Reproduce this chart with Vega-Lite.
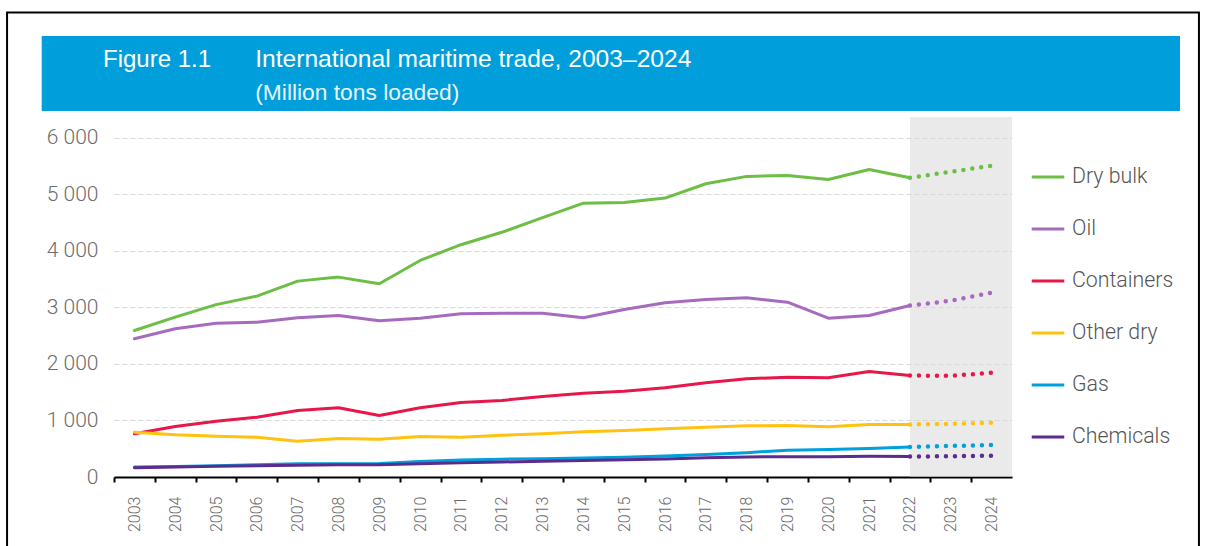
{
 "$schema": "https://vega.github.io/schema/vega-lite/v6.json",
 "width": 898,
 "height": 360,
 "autosize": {"type": "none"},
 "padding": {"left": 114, "top": 117, "right": 195, "bottom": 69},
 "background": "white",
 "config": {"view": {"stroke": null}, "font": "Roboto"},
 "datasets": {
  "trade": [
   {"series":"Dry bulk","year":2003,"value":2593},{"series":"Dry bulk","year":2004,"value":2830},{"series":"Dry bulk","year":2005,"value":3050},{"series":"Dry bulk","year":2006,"value":3200},{"series":"Dry bulk","year":2007,"value":3466},{"series":"Dry bulk","year":2008,"value":3537},{"series":"Dry bulk","year":2009,"value":3419},{"series":"Dry bulk","year":2010,"value":3832},{"series":"Dry bulk","year":2011,"value":4110},{"series":"Dry bulk","year":2012,"value":4330},{"series":"Dry bulk","year":2013,"value":4590},{"series":"Dry bulk","year":2014,"value":4846},{"series":"Dry bulk","year":2015,"value":4858},{"series":"Dry bulk","year":2016,"value":4935},{"series":"Dry bulk","year":2017,"value":5189},{"series":"Dry bulk","year":2018,"value":5319},{"series":"Dry bulk","year":2019,"value":5336},{"series":"Dry bulk","year":2020,"value":5265},{"series":"Dry bulk","year":2021,"value":5442},{"series":"Dry bulk","year":2022,"value":5295},{"series":"Dry bulk","year":2023,"value":5400},{"series":"Dry bulk","year":2024,"value":5508},
   {"series":"Oil","year":2003,"value":2446},{"series":"Oil","year":2004,"value":2623},{"series":"Oil","year":2005,"value":2722},{"series":"Oil","year":2006,"value":2740},{"series":"Oil","year":2007,"value":2817},{"series":"Oil","year":2008,"value":2858},{"series":"Oil","year":2009,"value":2765},{"series":"Oil","year":2010,"value":2811},{"series":"Oil","year":2011,"value":2888},{"series":"Oil","year":2012,"value":2899},{"series":"Oil","year":2013,"value":2899},{"series":"Oil","year":2014,"value":2817},{"series":"Oil","year":2015,"value":2965},{"series":"Oil","year":2016,"value":3083},{"series":"Oil","year":2017,"value":3142},{"series":"Oil","year":2018,"value":3171},{"series":"Oil","year":2019,"value":3094},{"series":"Oil","year":2020,"value":2811},{"series":"Oil","year":2021,"value":2858},{"series":"Oil","year":2022,"value":3035},{"series":"Oil","year":2023,"value":3118},{"series":"Oil","year":2024,"value":3260},
   {"series":"Containers","year":2003,"value":764},{"series":"Containers","year":2004,"value":894},{"series":"Containers","year":2005,"value":988},{"series":"Containers","year":2006,"value":1059},{"series":"Containers","year":2007,"value":1177},{"series":"Containers","year":2008,"value":1225},{"series":"Containers","year":2009,"value":1088},{"series":"Containers","year":2010,"value":1225},{"series":"Containers","year":2011,"value":1319},{"series":"Containers","year":2012,"value":1354},{"series":"Containers","year":2013,"value":1425},{"series":"Containers","year":2014,"value":1483},{"series":"Containers","year":2015,"value":1519},{"series":"Containers","year":2016,"value":1578},{"series":"Containers","year":2017,"value":1667},{"series":"Containers","year":2018,"value":1738},{"series":"Containers","year":2019,"value":1767},{"series":"Containers","year":2020,"value":1756},{"series":"Containers","year":2021,"value":1867},{"series":"Containers","year":2022,"value":1796},{"series":"Containers","year":2023,"value":1790},{"series":"Containers","year":2024,"value":1844},
   {"series":"Other dry","year":2003,"value":793},{"series":"Other dry","year":2004,"value":746},{"series":"Other dry","year":2005,"value":723},{"series":"Other dry","year":2006,"value":705},{"series":"Other dry","year":2007,"value":634},{"series":"Other dry","year":2008,"value":681},{"series":"Other dry","year":2009,"value":670},{"series":"Other dry","year":2010,"value":717},{"series":"Other dry","year":2011,"value":705},{"series":"Other dry","year":2012,"value":740},{"series":"Other dry","year":2013,"value":764},{"series":"Other dry","year":2014,"value":800},{"series":"Other dry","year":2015,"value":823},{"series":"Other dry","year":2016,"value":853},{"series":"Other dry","year":2017,"value":882},{"series":"Other dry","year":2018,"value":906},{"series":"Other dry","year":2019,"value":912},{"series":"Other dry","year":2020,"value":888},{"series":"Other dry","year":2021,"value":929},{"series":"Other dry","year":2022,"value":929},{"series":"Other dry","year":2023,"value":940},{"series":"Other dry","year":2024,"value":959},
   {"series":"Gas","year":2003,"value":175},{"series":"Gas","year":2004,"value":185},{"series":"Gas","year":2005,"value":200},{"series":"Gas","year":2006,"value":215},{"series":"Gas","year":2007,"value":235},{"series":"Gas","year":2008,"value":235},{"series":"Gas","year":2009,"value":240},{"series":"Gas","year":2010,"value":275},{"series":"Gas","year":2011,"value":300},{"series":"Gas","year":2012,"value":315},{"series":"Gas","year":2013,"value":325},{"series":"Gas","year":2014,"value":335},{"series":"Gas","year":2015,"value":350},{"series":"Gas","year":2016,"value":370},{"series":"Gas","year":2017,"value":400},{"series":"Gas","year":2018,"value":430},{"series":"Gas","year":2019,"value":475},{"series":"Gas","year":2020,"value":485},{"series":"Gas","year":2021,"value":505},{"series":"Gas","year":2022,"value":530},{"series":"Gas","year":2023,"value":550},{"series":"Gas","year":2024,"value":565},
   {"series":"Chemicals","year":2003,"value":165},{"series":"Chemicals","year":2004,"value":175},{"series":"Chemicals","year":2005,"value":190},{"series":"Chemicals","year":2006,"value":200},{"series":"Chemicals","year":2007,"value":210},{"series":"Chemicals","year":2008,"value":215},{"series":"Chemicals","year":2009,"value":215},{"series":"Chemicals","year":2010,"value":235},{"series":"Chemicals","year":2011,"value":250},{"series":"Chemicals","year":2012,"value":265},{"series":"Chemicals","year":2013,"value":280},{"series":"Chemicals","year":2014,"value":290},{"series":"Chemicals","year":2015,"value":305},{"series":"Chemicals","year":2016,"value":320},{"series":"Chemicals","year":2017,"value":340},{"series":"Chemicals","year":2018,"value":355},{"series":"Chemicals","year":2019,"value":360},{"series":"Chemicals","year":2020,"value":360},{"series":"Chemicals","year":2021,"value":365},{"series":"Chemicals","year":2022,"value":362},{"series":"Chemicals","year":2023,"value":368},{"series":"Chemicals","year":2024,"value":378}
  ]
 },
 "layer": [
  {
   "data": {"values": [{}]},
   "mark": {"type": "rect", "fill": "transparent", "stroke": "#000000", "strokeWidth": 2},
   "encoding": {
    "x": {"datum": 1999.88, "type": "quantitative", "title": null, "scale": {"domain": [2002.5, 2024.5], "nice": false, "zero": false}},
    "x2": {"datum": 2029.08},
    "y": {"datum": 8219, "type": "quantitative", "title": null, "scale": {"domain": [0, 6370], "nice": false}},
    "y2": {"datum": -2000}
   }
  },
  {
   "data": {"values": [{}]},
   "mark": {"type": "rect", "fill": "#009EDB"},
   "encoding": {
    "x": {"datum": 2000.729, "type": "quantitative", "title": null, "scale": {"domain": [2002.5, 2024.5], "nice": false, "zero": false}},
    "x2": {"datum": 2028.616},
    "y": {"datum": 7803, "type": "quantitative", "title": null, "scale": {"domain": [0, 6370], "nice": false}},
    "y2": {"datum": 6476}
   }
  },
  {
   "data": {"values": [{}]},
   "mark": {"type": "text", "align": "left", "baseline": "alphabetic", "font": "Liberation Sans", "fontSize": 24, "fill": "#ffffff"},
   "encoding": {
    "x": {"datum": 2002.23, "type": "quantitative", "title": null, "scale": {"domain": [2002.5, 2024.5], "nice": false, "zero": false}},
    "y": {"datum": 7260, "type": "quantitative", "title": null, "scale": {"domain": [0, 6370], "nice": false}},
    "text": {"value": "Figure 1.1"}
   }
  },
  {
   "data": {"values": [{}]},
   "mark": {"type": "text", "align": "left", "baseline": "alphabetic", "font": "Liberation Sans", "fontSize": 24.6, "fill": "#ffffff"},
   "encoding": {
    "x": {"datum": 2005.96, "type": "quantitative", "title": null, "scale": {"domain": [2002.5, 2024.5], "nice": false, "zero": false}},
    "y": {"datum": 7260, "type": "quantitative", "title": null, "scale": {"domain": [0, 6370], "nice": false}},
    "text": {"value": "International maritime trade, 2003–2024"}
   }
  },
  {
   "data": {"values": [{}]},
   "mark": {"type": "text", "align": "left", "baseline": "alphabetic", "font": "Liberation Sans", "fontSize": 22.8, "fill": "#ffffff", "opacity": 0.9},
   "encoding": {
    "x": {"datum": 2005.96, "type": "quantitative", "title": null, "scale": {"domain": [2002.5, 2024.5], "nice": false, "zero": false}},
    "y": {"datum": 6671, "type": "quantitative", "title": null, "scale": {"domain": [0, 6370], "nice": false}},
    "text": {"value": "(Million tons loaded)"}
   }
  },
  {
   "data": {"values": [{}]},
   "mark": {"type": "rect", "fill": "#d6d6d6", "opacity": 0.5},
   "encoding": {
    "x": {"datum": 2022, "type": "quantitative", "title": null, "scale": {"domain": [2002.5, 2024.5], "nice": false, "zero": false}},
    "x2": {"datum": 2024.5},
    "y": {"datum": 0, "type": "quantitative", "title": null, "scale": {"domain": [0, 6370], "nice": false}},
    "y2": {"datum": 6370}
   }
  },
  {
   "data": {"name": "trade"},
   "transform": [{"filter": "datum.year <= 2022"}],
   "mark": {"type": "line", "strokeWidth": 3, "strokeJoin": "round", "strokeCap": "round"},
   "encoding": {
    "x": {"field": "year", "type": "quantitative", "title": null, "scale": {"domain": [2002.5, 2024.5], "nice": false, "zero": false},
     "axis": {"title": null, "values": [2003,2004,2005,2006,2007,2008,2009,2010,2011,2012,2013,2014,2015,2016,2017,2018,2019,2020,2021,2022,2023,2024,2025],
      "labelExpr": "datum.value > 2024 ? '' : format(datum.value, 'd')", "labelAngle": -90, "labelAlign": "right", "labelBaseline": "middle",
      "tickOffset": -20.41, "labelOffset": 20.41, "domainColor": "#000000", "domainWidth": 2, "tickColor": "#000000", "tickWidth": 2, "tickSize": 5,
      "grid": false, "labelFont": "Roboto", "labelFontWeight": 300, "labelFontSize": 16, "labelColor": "#6a6a6a", "labelPadding": 14, "labelOverlap": false}},
    "y": {"field": "value", "type": "quantitative", "title": null, "scale": {"domain": [0, 6370], "nice": false},
     "axis": {"title": null, "values": [0,1000,2000,3000,4000,5000,6000], "domain": false, "ticks": false,
      "labelExpr": "replace(format(datum.value, ','), ',', ' ')", "labelFont": "Roboto", "labelFontWeight": 300, "labelFontSize": 21,
      "labelColor": "#6d6d6d", "labelPadding": 16, "grid": true, "gridColor": "#d8d8d8", "gridDash": [5, 3], "gridWidth": 1}},
    "color": {"field": "series", "type": "nominal",
     "scale": {"domain": ["Dry bulk","Oil","Containers","Other dry","Gas","Chemicals"], "range": ["#6DBE45","#A66BBE","#E8174A","#FFC20E","#00A0DC","#5B2C8E"]},
     "legend": {"title": null, "orient": "none", "direction": "vertical", "legendX": 916, "legendY": 42, "padding": 0,
      "symbolType": "stroke", "symbolSize": 1060, "symbolStrokeWidth": 3, "labelFont": "Roboto", "labelFontWeight": 300,
      "labelFontSize": 21.3, "labelColor": "#555555", "labelOffset": 6, "rowPadding": 23}}
   }
  },
  {
   "data": {"name": "trade"},
   "transform": [{"filter": "datum.year >= 2022"}],
   "mark": {"type": "line", "strokeWidth": 4.5, "strokeCap": "round", "strokeDash": [0, 9]},
   "encoding": {
    "x": {"field": "year", "type": "quantitative", "title": null, "scale": {"domain": [2002.5, 2024.5], "nice": false, "zero": false}},
    "y": {"field": "value", "type": "quantitative", "title": null, "scale": {"domain": [0, 6370], "nice": false}},
    "color": {"field": "series", "type": "nominal",
     "scale": {"domain": ["Dry bulk","Oil","Containers","Other dry","Gas","Chemicals"], "range": ["#6DBE45","#A66BBE","#E8174A","#FFC20E","#00A0DC","#5B2C8E"]},
     "legend": null}
   }
  }
 ]
}
